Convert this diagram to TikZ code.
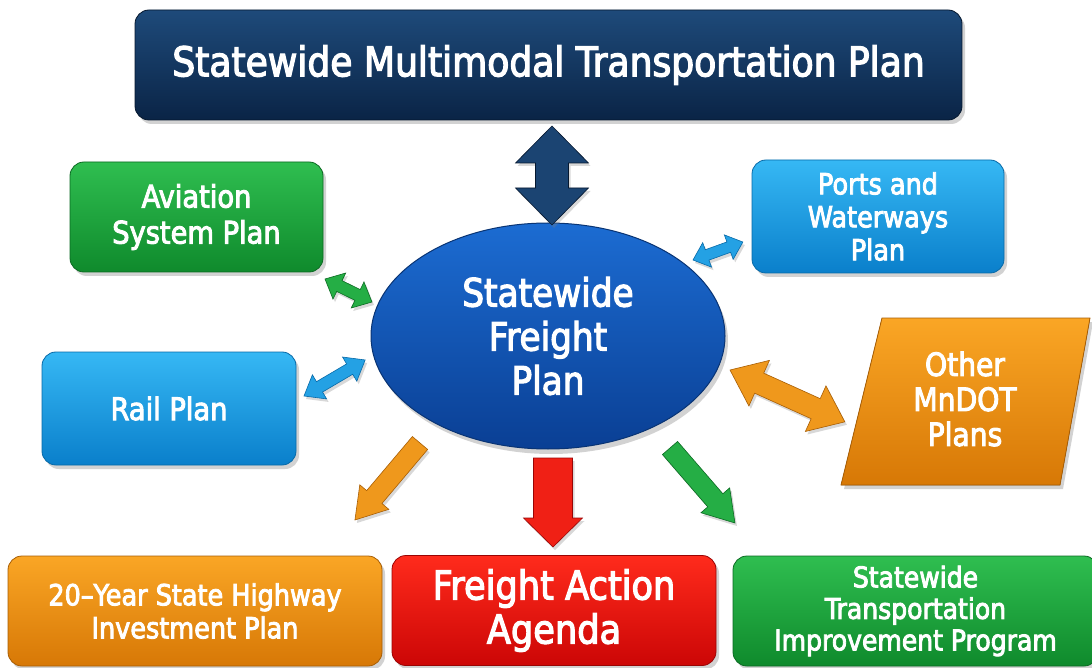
\documentclass[tikz,border=0pt]{standalone}
\usepackage{fontspec}
\setmainfont{DejaVu Sans}[FakeStretch=0.88, FakeBold=3]
\usetikzlibrary{shapes.geometric,shadows}
\definecolor{navyT}{HTML}{1E4A7A}
\definecolor{navyB}{HTML}{0A2446}
\definecolor{navyD}{HTML}{06182F}
\definecolor{grnT}{HTML}{2FBE50}
\definecolor{grnB}{HTML}{0F8A2C}
\definecolor{grnD}{HTML}{0B6A22}
\definecolor{bluT}{HTML}{36B8F4}
\definecolor{bluB}{HTML}{0A7FCB}
\definecolor{bluD}{HTML}{086AA8}
\definecolor{orgT}{HTML}{FAA625}
\definecolor{orgB}{HTML}{D77806}
\definecolor{orgD}{HTML}{A85E05}
\definecolor{redT}{HTML}{FF2B1C}
\definecolor{redB}{HTML}{CC0606}
\definecolor{redD}{HTML}{9A0404}
\definecolor{ellT}{HTML}{1C6CD2}
\definecolor{ellB}{HTML}{0A3F94}
\definecolor{ellD}{HTML}{093474}
\newcommand\dblarr[5]{% style, length, shaft half, head half, head length
  \filldraw[#1] (0,0) -- (#5,#4) -- (#5,#3) -- ({#2-#5},#3) -- ({#2-#5},#4) -- (#2,0)
    -- ({#2-#5},-#4) -- ({#2-#5},-#3) -- (#5,-#3) -- (#5,-#4) -- cycle;}
\newcommand\sglarr[5]{% style, length, shaft half, head half, head length
  \filldraw[#1] (0,-#3) -- ({#2-#5},-#3) -- ({#2-#5},-#4) -- (#2,0)
    -- ({#2-#5},#4) -- ({#2-#5},#3) -- (0,#3) -- cycle;}
\begin{document}
\begin{tikzpicture}[x=1pt,y=-1pt,
  shad/.style={drop shadow={opacity=0.35, shadow xshift=3pt, shadow yshift=-4pt}},
  base/.style={rectangle, rounded corners=14pt, text=white, align=center, inner sep=0pt,
    line width=0.8pt, shad},
  navybox/.style={base, top color=navyT, bottom color=navyB, draw=navyD},
  grnbox/.style={base, top color=grnT, bottom color=grnB, draw=grnD},
  blubox/.style={base, top color=bluT, bottom color=bluB, draw=bluD},
  orgbox/.style={base, top color=orgT, bottom color=orgB, draw=orgD},
  redbox/.style={base, top color=redT, bottom color=redB, draw=redD},
  orgshape/.style={top color=orgT, bottom color=orgB, draw=orgD, line width=0.8pt, shad},
  arr/.style={line width=0.6pt, line join=miter, drop shadow={opacity=0.3, shadow xshift=2pt, shadow yshift=-3pt}},
  navyarr/.style={arr, fill=navyT!85!navyB, draw=navyD},
  grnarr/.style={arr, fill=grnT!70!grnB, draw=grnD},
  bluarr/.style={arr, fill=bluT!60!bluB, draw=bluD},
  orgarr/.style={arr, fill=orgT!70!orgB, draw=orgD},
  redarr/.style={arr, fill=redT!70!redB, draw=redD},
  f41/.style={font=\fontsize{41}{45}\selectfont},
  f40/.style={font=\fontsize{40}{44}\selectfont},
  f39/.style={font=\fontsize{39}{44}\selectfont},
  f32/.style={font=\fontsize{32}{35}\selectfont},
  f31/.style={font=\fontsize{31}{36}\selectfont},
  f29/.style={font=\fontsize{29}{33}\selectfont},
  f28/.style={font=\fontsize{28.5}{31.5}\selectfont},
]
\useasboundingbox (0,0) rectangle (1092,668);
\clip (0,0) rectangle (1092,668);
\fill[white] (0,0) rectangle (1092,668);

% boxes
\node[navybox, f41, minimum width=827pt, minimum height=110pt] (smtp) at (548.5,65)
  {Statewide Multimodal Transportation Plan};
\node[grnbox, f31, minimum width=253pt, minimum height=110pt] (avi) at (196.5,217)
  {Aviation\\System Plan};
\node[blubox, f29, minimum width=252pt, minimum height=113pt] (ports) at (878,216.5)
  {Ports and\\Waterways\\Plan};
\node[blubox, f31, minimum width=254pt, minimum height=113pt] (rail) at (169,408.5)
  {Rail Plan};
\filldraw[orgshape] (882,318) -- (1090,318) -- (1060,485) -- (841,485) -- cycle;
\node[text=white, align=center, f32] (other) at (965,399)
  {Other\\MnDOT\\Plans};
\node[orgbox, f29, minimum width=374pt, minimum height=110pt] (hwy) at (195,611)
  {20–Year State Highway\\Investment Plan};
\node[redbox, f40, minimum width=324pt, minimum height=110pt] (faa) at (554,610.5)
  {Freight Action\\Agenda};
\node[grnbox, f28, minimum width=365pt, minimum height=110pt] (stip) at (915.5,611)
  {Statewide\\Transportation\\Improvement Program};
\node[ellipse, top color=ellT, bottom color=ellB, draw=ellD, line width=1pt,
  text=white, align=center, f39,
  minimum width=354pt, minimum height=226pt, inner sep=0pt,
  drop shadow={opacity=0.35, shadow xshift=3pt, shadow yshift=-5pt}] (sfp) at (548,336)
  {Statewide\\Freight\\Plan};

% arrows
\begin{scope}[shift={(552,126)}, rotate=-90]
  \dblarr{navyarr}{99}{16.5}{36.5}{37}
\end{scope}
\begin{scope}[shift={(325,279)}, rotate=-26.1]
  \dblarr{grnarr}{52.3}{6}{14.5}{16}
\end{scope}
\begin{scope}[shift={(304,396)}, rotate=30.5]
  \dblarr{bluarr}{71}{6}{14}{18}
\end{scope}
\begin{scope}[shift={(693,260)}, rotate=19.8]
  \dblarr{bluarr}{53}{5.5}{13}{15}
\end{scope}
\begin{scope}[shift={(730,370)}, rotate=-24.3]
  \dblarr{orgarr}{126}{11}{25}{32}
\end{scope}
\begin{scope}[shift={(420,443)}, rotate=-130.2]
  \sglarr{orgarr}{100.8}{10}{19}{30}
\end{scope}
\begin{scope}[shift={(553,458)}, rotate=-90]
  \sglarr{redarr}{89}{19.5}{29.5}{29}
\end{scope}
\begin{scope}[shift={(670,448)}, rotate=-49.1]
  \sglarr{grnarr}{99.2}{10}{19}{30}
\end{scope}
\end{tikzpicture}
\end{document}
